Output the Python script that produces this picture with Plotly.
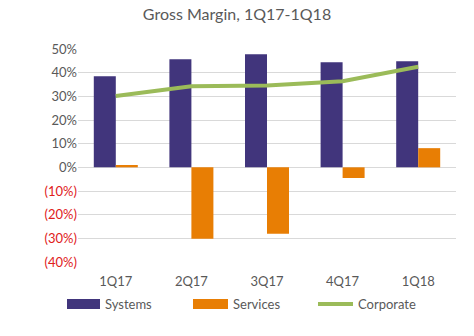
import plotly.graph_objects as go

quarters = ["1Q17", "2Q17", "3Q17", "4Q17", "1Q18"]
systems = [0.385, 0.457, 0.478, 0.444, 0.448]
services = [0.010, -0.302, -0.281, -0.045, 0.081]
corporate = [0.301, 0.343, 0.346, 0.364, 0.425]

tick_vals = [0.5, 0.4, 0.3, 0.2, 0.1, 0.0, -0.1, -0.2, -0.3, -0.4]
tick_text = ["50%", "40%", "30%", "20%", "10%", "0%",
             "<span style='color:#E0201B'>(10%)</span>",
             "<span style='color:#E0201B'>(20%)</span>",
             "<span style='color:#E0201B'>(30%)</span>",
             "<span style='color:#E0201B'>(40%)</span>"]

PURPLE = "#41357C"
ORANGE = "#E87E04"
GREEN = "#9BBB59"
FONT = "Lato, Open Sans, sans-serif"

W, H = 474, 336
ML, MR, MT, MB = 78, 18, 49, 74
PW, PH = W - ML - MR, H - MT - MB


def px_x(px):
    return (px - ML) / PW


def px_y(py):
    return (H - MB - py) / PH


fig = go.Figure()
fig.add_trace(go.Bar(x=quarters, y=systems, name="Systems", marker_color=PURPLE,
                     marker_line_width=0))
fig.add_trace(go.Bar(x=quarters, y=services, name="Services", marker_color=ORANGE,
                     marker_line_width=0))
fig.add_trace(go.Scatter(x=quarters, y=corporate, name="Corporate", mode="lines",
                         line=dict(color=GREEN, width=4)))

# custom legend (Excel-style wide swatches)
legend_items = [("Systems", PURPLE, "rect", 67, 100),
                ("Services", ORANGE, "rect", 193, 228),
                ("Corporate", GREEN, "line", 318, 353)]
shapes, annotations = [], []
for name, col, kind, x0, x1 in legend_items:
    if kind == "rect":
        shapes.append(dict(type="rect", xref="paper", yref="paper",
                           x0=px_x(x0), x1=px_x(x1), y0=px_y(309), y1=px_y(299),
                           fillcolor=col, line=dict(width=0)))
    else:
        shapes.append(dict(type="line", xref="paper", yref="paper",
                           x0=px_x(x0), x1=px_x(x1), y0=px_y(304), y1=px_y(304),
                           line=dict(color=col, width=4)))
    annotations.append(dict(text=name, xref="paper", yref="paper",
                            x=px_x(x1 + 3), y=px_y(304), xanchor="left",
                            yanchor="middle", showarrow=False,
                            font=dict(family=FONT, size=13, color="#595959")))

fig.update_layout(
    width=W, height=H,
    margin=dict(l=ML, r=MR, t=MT, b=MB, autoexpand=False),
    paper_bgcolor="white", plot_bgcolor="white",
    barmode="group", bargap=0.418, bargroupgap=0,
    font=dict(family=FONT, color="#595959", size=13),
    title=dict(text="Gross Margin, 1Q17-1Q18", x=0.5, xanchor="center",
               y=1 - 14 / H, yanchor="middle",
               font=dict(family=FONT, size=16, color="#595959")),
    showlegend=False,
    shapes=shapes, annotations=annotations,
    xaxis=dict(showgrid=False, showline=False, zeroline=False, ticks="",
               ticklabelstandoff=10,
               tickfont=dict(family=FONT, size=13, color="#595959")),
    yaxis=dict(range=[-0.4, 0.5], tickvals=tick_vals, ticktext=tick_text,
               showgrid=True, gridcolor="#D9D9D9", gridwidth=1,
               zeroline=False, showline=False, ticks="",
               tickfont=dict(family=FONT, size=13, color="#595959")),
)

fig.write_html("out.html")
